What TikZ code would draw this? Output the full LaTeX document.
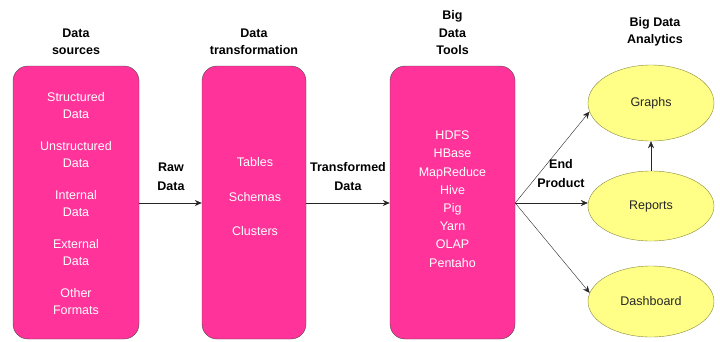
\documentclass[tikz,border=0pt]{standalone}
\usepackage{fontspec}
\setmainfont{Liberation Sans}
\usetikzlibrary{shapes.geometric,arrows.meta}
\definecolor{boxpink}{HTML}{FF3399}
\definecolor{ovalyellow}{HTML}{FFFF88}
\definecolor{ovalline}{HTML}{8A8A3A}
\tikzset{
  stagebox/.style={draw=black!70, thin, fill=boxpink, rounded corners=15pt,
    text=white, font=\fontsize{12.5}{17}\selectfont, align=center},
  outoval/.style={ellipse, draw=ovalline, thin, fill=ovalyellow,
    minimum width=126pt, minimum height=72pt, inner sep=0pt,
    font=\fontsize{12.5}{15}\selectfont, text=black!85},
  heading/.style={font=\bfseries\fontsize{12.5}{17.5}\selectfont, align=center},
  flowlabel/.style={font=\bfseries\fontsize{12.5}{19}\selectfont, align=center},
  flow/.style={-{Stealth[length=7pt,width=6pt]}, thick, black!85}
}
\begin{document}
\begin{tikzpicture}[x=1pt,y=-1pt]
        % Rettangolo di riferimento
        \useasboundingbox (0,0) rectangle (720,341);

        % Blocchi principali
        \node[stagebox, minimum width=126pt, minimum height=273pt] (sources) at (76,202.5) {};
        \node[stagebox, minimum width=104pt, minimum height=273pt] (transform) at (254,202.5) {};
        \node[stagebox, minimum width=125pt, minimum height=273pt] (tools) at (452.5,202.5) {};

        % Contenuto dei blocchi
        \node[stagebox, draw=none, fill=none] (srclist) at (76,204)
          {Structured\\Data\\[15pt]Unstructured\\Data\\[15pt]Internal\\Data\\[15pt]External\\Data\\[15pt]Other\\Formats};
        \node[stagebox, draw=none, fill=none, font=\fontsize{12.5}{34.5}\selectfont] (trlist) at (255,197)
          {Tables\\Schemas\\Clusters};
        \node[stagebox, draw=none, fill=none, font=\fontsize{12.5}{18.2}\selectfont] (toollist) at (452.5,199)
          {HDFS\\HBase\\MapReduce\\Hive\\Pig\\Yarn\\OLAP\\Pentaho};

        % Titoli
        \node[heading] (h1) at (76,42) {Data\\sources};
        \node[heading] (h2) at (254,42) {Data\\transformation};
        \node[heading] (h3) at (452.5,33) {Big\\Data\\Tools};
        \node[heading] (h4) at (655,32) {Big Data\\Analytics};

        % Risultati
        \node[outoval, minimum height=76pt] (graphs) at (651,103) {Graphs};
        \node[outoval, minimum height=70pt] (reports) at (651,206) {Reports};
        \node[outoval, minimum height=71pt] (dash) at (651,301.5) {Dashboard};

        % Frecce
        \draw[flow] (sources.east |- 0,203) -- (transform.west |- 0,203);
        \draw[flow] (transform.east |- 0,203) -- (tools.west |- 0,203);
        \coordinate (fork) at (tools.east |- 0,203);
        \draw[flow, thin] (fork) -- (graphs.188);
        \draw[flow, thin] (fork) -- (reports.west |- 0,203);
        \draw[flow, thin] (fork) -- (dash.172);
        \draw[flow, thin] (reports.north) -- (graphs.south);

        % Etichette delle frecce
        \node[flowlabel] (lraw) at (171,177) {Raw\\Data};
        \node[flowlabel] (ltr) at (348,177) {Transformed\\Data};
        \node[flowlabel] (lend) at (561,174) {End\\Product};
\end{tikzpicture}
\end{document}
